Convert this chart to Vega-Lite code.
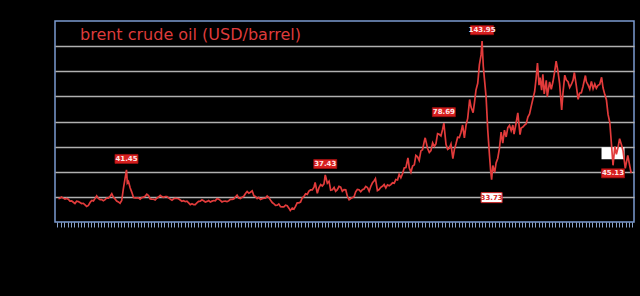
{
  "$schema": "https://vega.github.io/schema/vega-lite/v6.json",
  "autosize": {"type": "none"},
  "width": 579,
  "height": 201,
  "padding": {"left": 55, "top": 21, "right": 6, "bottom": 74},
  "background": "#000000",
  "config": {"view": {"stroke": "#7b9bd0", "strokeWidth": 1.5}},
  "title": {"text": "brent crude oil (USD/barrel)", "anchor": "start", "offset": -35, "dx": 25, "baseline": "alphabetic", "color": "#dd3b3b", "fontSize": 16, "fontWeight": "normal", "font": "DejaVu Sans"},
  "datasets": {
    "prices": [
      {"date":"1987-05-20","price":18.6},{"date":"1987-06-15","price":18.9},{"date":"1987-07-15","price":19.9},{"date":"1987-08-15","price":19.0},{"date":"1987-09-15","price":18.3},{"date":"1987-10-15","price":18.8},{"date":"1987-11-15","price":18.2},{"date":"1987-12-15","price":16.7},
      {"date":"1988-01-15","price":16.8},{"date":"1988-02-15","price":15.7},{"date":"1988-03-15","price":14.7},{"date":"1988-04-15","price":16.6},{"date":"1988-05-15","price":16.3},{"date":"1988-06-15","price":15.5},{"date":"1988-07-15","price":14.7},{"date":"1988-08-15","price":14.9},{"date":"1988-09-15","price":13.7},{"date":"1988-10-15","price":12.4},{"date":"1988-11-15","price":13.2},{"date":"1988-12-15","price":15.5},
      {"date":"1989-01-15","price":17.2},{"date":"1989-02-15","price":16.8},{"date":"1989-03-15","price":18.6},{"date":"1989-04-15","price":20.8},{"date":"1989-05-15","price":18.7},{"date":"1989-06-15","price":17.8},{"date":"1989-07-15","price":17.8},{"date":"1989-08-15","price":17.0},{"date":"1989-09-15","price":17.8},{"date":"1989-10-15","price":19.1},{"date":"1989-11-15","price":19.0},{"date":"1989-12-15","price":20.5},
      {"date":"1990-01-15","price":22.5},{"date":"1990-02-15","price":19.7},{"date":"1990-03-15","price":18.4},{"date":"1990-04-15","price":16.6},{"date":"1990-05-15","price":16.0},{"date":"1990-06-15","price":14.9},{"date":"1990-07-15","price":17.1},{"date":"1990-08-15","price":26.7},{"date":"1990-09-15","price":34.9},{"date":"1990-10-10","price":41.45},{"date":"1990-10-25","price":31.0},{"date":"1990-11-15","price":32.3},{"date":"1990-12-15","price":27.3},
      {"date":"1991-01-15","price":23.6},{"date":"1991-02-15","price":19.5},{"date":"1991-03-15","price":19.1},{"date":"1991-04-15","price":19.2},{"date":"1991-05-15","price":19.2},{"date":"1991-06-15","price":18.2},{"date":"1991-07-15","price":19.4},{"date":"1991-08-15","price":19.8},{"date":"1991-09-15","price":20.5},{"date":"1991-10-15","price":22.2},{"date":"1991-11-15","price":21.1},{"date":"1991-12-15","price":18.4},
      {"date":"1992-01-15","price":18.2},{"date":"1992-02-15","price":18.1},{"date":"1992-03-15","price":17.6},{"date":"1992-04-15","price":18.9},{"date":"1992-05-15","price":19.9},{"date":"1992-06-15","price":21.2},{"date":"1992-07-15","price":20.2},{"date":"1992-08-15","price":19.7},{"date":"1992-09-15","price":20.3},{"date":"1992-10-15","price":20.3},{"date":"1992-11-15","price":19.2},{"date":"1992-12-15","price":18.2},
      {"date":"1993-01-15","price":17.4},{"date":"1993-02-15","price":18.5},{"date":"1993-03-15","price":18.8},{"date":"1993-04-15","price":18.7},{"date":"1993-05-15","price":18.5},{"date":"1993-06-15","price":17.5},{"date":"1993-07-15","price":16.5},{"date":"1993-08-15","price":16.9},{"date":"1993-09-15","price":16.2},{"date":"1993-10-15","price":16.6},{"date":"1993-11-15","price":15.2},{"date":"1993-12-15","price":13.8},
      {"date":"1994-01-15","price":14.5},{"date":"1994-02-15","price":13.8},{"date":"1994-03-15","price":13.8},{"date":"1994-04-15","price":15.3},{"date":"1994-05-15","price":16.4},{"date":"1994-06-15","price":16.6},{"date":"1994-07-15","price":17.7},{"date":"1994-08-15","price":16.9},{"date":"1994-09-15","price":15.9},{"date":"1994-10-15","price":16.4},{"date":"1994-11-15","price":17.1},{"date":"1994-12-15","price":15.9},
      {"date":"1995-01-15","price":16.6},{"date":"1995-02-15","price":17.1},{"date":"1995-03-15","price":16.9},{"date":"1995-04-15","price":18.6},{"date":"1995-05-15","price":18.2},{"date":"1995-06-15","price":17.2},{"date":"1995-07-15","price":16.0},{"date":"1995-08-15","price":16.5},{"date":"1995-09-15","price":16.6},{"date":"1995-10-15","price":16.2},{"date":"1995-11-15","price":16.9},{"date":"1995-12-15","price":18.0},
      {"date":"1996-01-15","price":18.0},{"date":"1996-02-15","price":18.4},{"date":"1996-03-15","price":19.9},{"date":"1996-04-15","price":21.3},{"date":"1996-05-15","price":19.1},{"date":"1996-06-15","price":18.6},{"date":"1996-07-15","price":19.8},{"date":"1996-08-15","price":20.5},{"date":"1996-09-15","price":22.7},{"date":"1996-10-15","price":24.2},{"date":"1996-11-15","price":22.9},{"date":"1996-12-15","price":23.7},
      {"date":"1997-01-15","price":24.8},{"date":"1997-02-15","price":20.8},{"date":"1997-03-15","price":20.3},{"date":"1997-04-15","price":18.6},{"date":"1997-05-15","price":19.6},{"date":"1997-06-15","price":17.9},{"date":"1997-07-15","price":18.6},{"date":"1997-08-15","price":18.9},{"date":"1997-09-15","price":18.9},{"date":"1997-10-15","price":20.7},{"date":"1997-11-15","price":19.5},{"date":"1997-12-15","price":17.4},
      {"date":"1998-01-15","price":15.5},{"date":"1998-02-15","price":14.5},{"date":"1998-03-15","price":13.2},{"date":"1998-04-15","price":13.3},{"date":"1998-05-15","price":14.4},{"date":"1998-06-15","price":12.2},{"date":"1998-07-15","price":12.1},{"date":"1998-08-15","price":12.0},{"date":"1998-09-15","price":13.4},{"date":"1998-10-15","price":12.9},{"date":"1998-11-15","price":11.0},{"date":"1998-12-10","price":9.1},
      {"date":"1999-01-15","price":11.1},{"date":"1999-02-15","price":10.3},{"date":"1999-03-15","price":12.5},{"date":"1999-04-15","price":15.3},{"date":"1999-05-15","price":15.3},{"date":"1999-06-15","price":15.9},{"date":"1999-07-15","price":19.1},{"date":"1999-08-15","price":20.3},{"date":"1999-09-15","price":22.5},{"date":"1999-10-15","price":22.0},{"date":"1999-11-15","price":24.6},{"date":"1999-12-15","price":25.5},
      {"date":"2000-01-15","price":25.5},{"date":"2000-02-15","price":27.8},{"date":"2000-03-07","price":31.5},{"date":"2000-04-15","price":22.8},{"date":"2000-05-15","price":27.3},{"date":"2000-06-15","price":29.8},{"date":"2000-07-15","price":28.7},{"date":"2000-08-15","price":30.4},{"date":"2000-09-07","price":37.43},{"date":"2000-10-15","price":30.9},{"date":"2000-11-15","price":32.5},{"date":"2000-12-15","price":25.3},
      {"date":"2001-01-15","price":25.6},{"date":"2001-02-15","price":27.5},{"date":"2001-03-15","price":24.5},{"date":"2001-04-15","price":25.7},{"date":"2001-05-15","price":28.4},{"date":"2001-06-15","price":27.7},{"date":"2001-07-15","price":24.5},{"date":"2001-08-15","price":25.8},{"date":"2001-09-15","price":25.6},{"date":"2001-10-15","price":20.5},{"date":"2001-11-15","price":17.7},{"date":"2001-12-15","price":18.7},
      {"date":"2002-01-15","price":19.4},{"date":"2002-02-15","price":20.3},{"date":"2002-03-15","price":24.0},{"date":"2002-04-15","price":26.0},{"date":"2002-05-15","price":25.7},{"date":"2002-06-15","price":24.1},{"date":"2002-07-15","price":25.7},{"date":"2002-08-15","price":26.3},{"date":"2002-09-15","price":28.4},{"date":"2002-10-15","price":27.5},{"date":"2002-11-15","price":24.5},{"date":"2002-12-15","price":28.3},
      {"date":"2003-01-15","price":31.2},{"date":"2003-02-15","price":32.8},{"date":"2003-03-10","price":34.5},{"date":"2003-04-15","price":25.0},{"date":"2003-05-15","price":25.8},{"date":"2003-06-15","price":27.6},{"date":"2003-07-15","price":28.4},{"date":"2003-08-15","price":29.8},{"date":"2003-09-15","price":27.1},{"date":"2003-10-15","price":29.6},{"date":"2003-11-15","price":28.8},{"date":"2003-12-15","price":29.8},
      {"date":"2004-01-15","price":31.2},{"date":"2004-02-15","price":30.9},{"date":"2004-03-15","price":33.8},{"date":"2004-04-15","price":33.4},{"date":"2004-05-15","price":37.9},{"date":"2004-06-15","price":35.2},{"date":"2004-07-15","price":38.4},{"date":"2004-08-15","price":43.0},{"date":"2004-09-15","price":43.4},{"date":"2004-10-22","price":51.0},{"date":"2004-11-15","price":43.1},{"date":"2004-12-15","price":39.6},
      {"date":"2005-01-15","price":44.5},{"date":"2005-02-15","price":45.5},{"date":"2005-03-15","price":53.1},{"date":"2005-04-15","price":51.9},{"date":"2005-05-15","price":49.0},{"date":"2005-06-15","price":56.6},{"date":"2005-07-15","price":57.5},{"date":"2005-08-15","price":64.1},{"date":"2005-09-01","price":67.0},{"date":"2005-10-15","price":58.5},{"date":"2005-11-15","price":55.4},{"date":"2005-12-15","price":56.9},
      {"date":"2006-01-15","price":63.0},{"date":"2006-02-15","price":60.2},{"date":"2006-03-15","price":62.1},{"date":"2006-04-15","price":70.3},{"date":"2006-05-15","price":69.8},{"date":"2006-06-15","price":68.6},{"date":"2006-07-15","price":73.7},{"date":"2006-08-07","price":78.69},{"date":"2006-09-15","price":61.9},{"date":"2006-10-15","price":57.8},{"date":"2006-11-15","price":58.8},{"date":"2006-12-15","price":62.0},
      {"date":"2007-01-18","price":50.5},{"date":"2007-02-15","price":57.8},{"date":"2007-03-15","price":62.1},{"date":"2007-04-15","price":67.5},{"date":"2007-05-15","price":67.2},{"date":"2007-06-15","price":71.3},{"date":"2007-07-15","price":77.2},{"date":"2007-08-16","price":67.0},{"date":"2007-09-15","price":77.0},{"date":"2007-10-15","price":82.5},{"date":"2007-11-20","price":97.5},{"date":"2007-12-15","price":91.5},
      {"date":"2008-01-22","price":87.0},{"date":"2008-02-15","price":94.9},{"date":"2008-03-14","price":105.0},{"date":"2008-04-15","price":110.4},{"date":"2008-05-15","price":125.0},{"date":"2008-06-15","price":133.0},{"date":"2008-07-03","price":143.95},{"date":"2008-07-25","price":124.0},{"date":"2008-08-15","price":113.9},{"date":"2008-09-15","price":99.1},{"date":"2008-10-15","price":72.8},{"date":"2008-11-15","price":53.2},{"date":"2008-12-05","price":41.6},{"date":"2008-12-24","price":33.73},
      {"date":"2009-01-15","price":44.9},{"date":"2009-02-18","price":39.5},{"date":"2009-03-15","price":47.0},{"date":"2009-04-15","price":50.8},{"date":"2009-05-15","price":58.6},{"date":"2009-06-15","price":71.5},{"date":"2009-07-15","price":62.8},{"date":"2009-08-15","price":73.1},{"date":"2009-09-15","price":67.7},{"date":"2009-10-15","price":75.2},{"date":"2009-11-15","price":77.0},{"date":"2009-12-15","price":72.7},
      {"date":"2010-01-15","price":77.2},{"date":"2010-02-05","price":70.0},{"date":"2010-03-15","price":78.8},{"date":"2010-04-15","price":86.8},{"date":"2010-05-25","price":69.5},{"date":"2010-06-15","price":74.8},{"date":"2010-07-15","price":75.6},{"date":"2010-08-15","price":77.1},{"date":"2010-09-15","price":78.2},{"date":"2010-10-15","price":83.5},{"date":"2010-11-15","price":86.1},{"date":"2010-12-15","price":92.0},
      {"date":"2011-01-31","price":101.0},{"date":"2011-02-15","price":103.7},{"date":"2011-03-15","price":114.6},{"date":"2011-04-08","price":126.6},{"date":"2011-05-06","price":109.0},{"date":"2011-05-25","price":115.0},{"date":"2011-06-23","price":105.0},{"date":"2011-07-15","price":117.5},{"date":"2011-08-09","price":102.0},{"date":"2011-09-15","price":112.8},{"date":"2011-10-04","price":99.8},{"date":"2011-11-15","price":111.5},{"date":"2011-12-15","price":105.7},
      {"date":"2012-01-15","price":111.6},{"date":"2012-02-15","price":119.7},{"date":"2012-03-13","price":128.1},{"date":"2012-04-15","price":119.8},{"date":"2012-05-15","price":110.3},{"date":"2012-06-22","price":89.2},{"date":"2012-07-15","price":102.6},{"date":"2012-08-17","price":116.9},{"date":"2012-09-15","price":113.0},{"date":"2012-10-15","price":111.7},{"date":"2012-11-15","price":107.1},{"date":"2012-12-15","price":109.5},
      {"date":"2013-01-15","price":112.9},{"date":"2013-02-08","price":119.0},{"date":"2013-03-15","price":108.5},{"date":"2013-04-17","price":97.7},{"date":"2013-05-15","price":102.6},{"date":"2013-06-15","price":102.9},{"date":"2013-07-15","price":107.9},{"date":"2013-08-28","price":116.6},{"date":"2013-09-15","price":111.6},{"date":"2013-10-15","price":109.1},{"date":"2013-11-15","price":105.8},{"date":"2013-12-15","price":111.8},
      {"date":"2014-01-15","price":106.1},{"date":"2014-02-15","price":109.9},{"date":"2014-03-15","price":106.5},{"date":"2014-04-15","price":108.8},{"date":"2014-05-15","price":109.5},{"date":"2014-06-19","price":115.2},{"date":"2014-07-15","price":106.8},{"date":"2014-08-15","price":101.6},{"date":"2014-09-15","price":97.1},{"date":"2014-10-15","price":85.4},{"date":"2014-11-15","price":79.4},{"date":"2014-12-15","price":62.3},
      {"date":"2015-01-13","price":45.13},{"date":"2015-02-15","price":60.1},{"date":"2015-03-15","price":53.9},{"date":"2015-04-15","price":59.5},{"date":"2015-05-13","price":66.3},{"date":"2015-06-15","price":61.5},{"date":"2015-07-15","price":56.6},{"date":"2015-08-24","price":42.7},{"date":"2015-09-15","price":47.6},{"date":"2015-10-09","price":53.0},{"date":"2015-11-15","price":44.3},{"date":"2015-12-10","price":39.0}
    ],
    "labels": [
      {"date":"1990-10-10","price":41.45,"label":"41.45","kind":"peak"},
      {"date":"2000-09-07","price":37.43,"label":"37.43","kind":"peak"},
      {"date":"2006-08-07","price":78.69,"label":"78.69","kind":"peak"},
      {"date":"2008-07-03","price":143.95,"label":"143.95","kind":"peak"},
      {"date":"2008-12-24","price":33.73,"label":"33.73","kind":"trough"},
      {"date":"2015-01-13","price":45.13,"label":"45.13","kind":"last"},
      {"date":"2015-01-13","price":45.13,"label":"","kind":"blank"}
    ]
  },
  "encoding": {
    "x": {"field": "date", "type": "temporal",
      "scale": {"domain": [{"year": 1987, "month": 3, "date": 18}, {"year": 2016, "month": 1, "date": 30}]},
      "axis": {"title": null, "labels": false, "grid": false, "domain": false, "ticks": true, "tickColor": "#8aa2c8", "tickSize": 5, "tickWidth": 1, "tickCount": {"interval": "month", "step": 2}}},
    "y": {"field": "price", "type": "quantitative",
      "scale": {"domain": [0, 160], "nice": false, "zero": false},
      "axis": {"title": null, "labels": false, "ticks": false, "domain": false, "grid": true, "gridColor": "#b0b0b0", "gridWidth": 1.5, "values": [20, 40, 60, 80, 100, 120, 140]}}
  },
  "layer": [
    {"data": {"name": "labels"}, "transform": [{"filter": "datum.kind === 'blank'"}],
     "mark": {"type": "point", "shape": "M-1.05,-0.5H1.05V0.5H-1.05Z", "size": 400, "filled": true, "fill": "#ffffff", "stroke": "#ffffff", "opacity": 1, "yOffset": -12}},
    {"data": {"name": "prices"},
     "mark": {"type": "line", "color": "#e23b3b", "strokeWidth": 1.7}},
    {"data": {"name": "labels"}, "transform": [{"filter": "datum.kind === 'peak'"}],
     "mark": {"type": "point", "shape": "M-1.15,-0.45H1.15V0.45H-1.15Z", "size": 400, "filled": true, "fill": "#d61f1f", "stroke": "#9e1010", "strokeWidth": 0.8, "opacity": 1, "yOffset": -11}},
    {"data": {"name": "labels"}, "transform": [{"filter": "datum.kind === 'peak'"}],
     "mark": {"type": "text", "font": "DejaVu Sans", "fontSize": 7, "fontWeight": "bold", "color": "#ffe6e6", "baseline": "middle", "align": "center", "yOffset": -11},
     "encoding": {"text": {"field": "label"}}},
    {"data": {"name": "labels"}, "transform": [{"filter": "datum.kind === 'trough'"}],
     "mark": {"type": "point", "shape": "M-1.05,-0.5H1.05V0.5H-1.05Z", "size": 400, "filled": true, "fill": "#ffffff", "stroke": "#c82020", "strokeWidth": 1, "opacity": 1, "yOffset": 18}},
    {"data": {"name": "labels"}, "transform": [{"filter": "datum.kind === 'trough'"}],
     "mark": {"type": "text", "font": "DejaVu Sans", "fontSize": 7, "fontWeight": "bold", "color": "#d02828", "baseline": "middle", "align": "center", "yOffset": 18},
     "encoding": {"text": {"field": "label"}}},
    {"data": {"name": "labels"}, "transform": [{"filter": "datum.kind === 'last'"}],
     "mark": {"type": "point", "shape": "M-1.15,-0.45H1.15V0.45H-1.15Z", "size": 400, "filled": true, "fill": "#d61f1f", "stroke": "#9e1010", "strokeWidth": 0.8, "opacity": 1, "yOffset": 8}},
    {"data": {"name": "labels"}, "transform": [{"filter": "datum.kind === 'last'"}],
     "mark": {"type": "text", "font": "DejaVu Sans", "fontSize": 7, "fontWeight": "bold", "color": "#ffe6e6", "baseline": "middle", "align": "center", "yOffset": 8},
     "encoding": {"text": {"field": "label"}}}
  ]
}
